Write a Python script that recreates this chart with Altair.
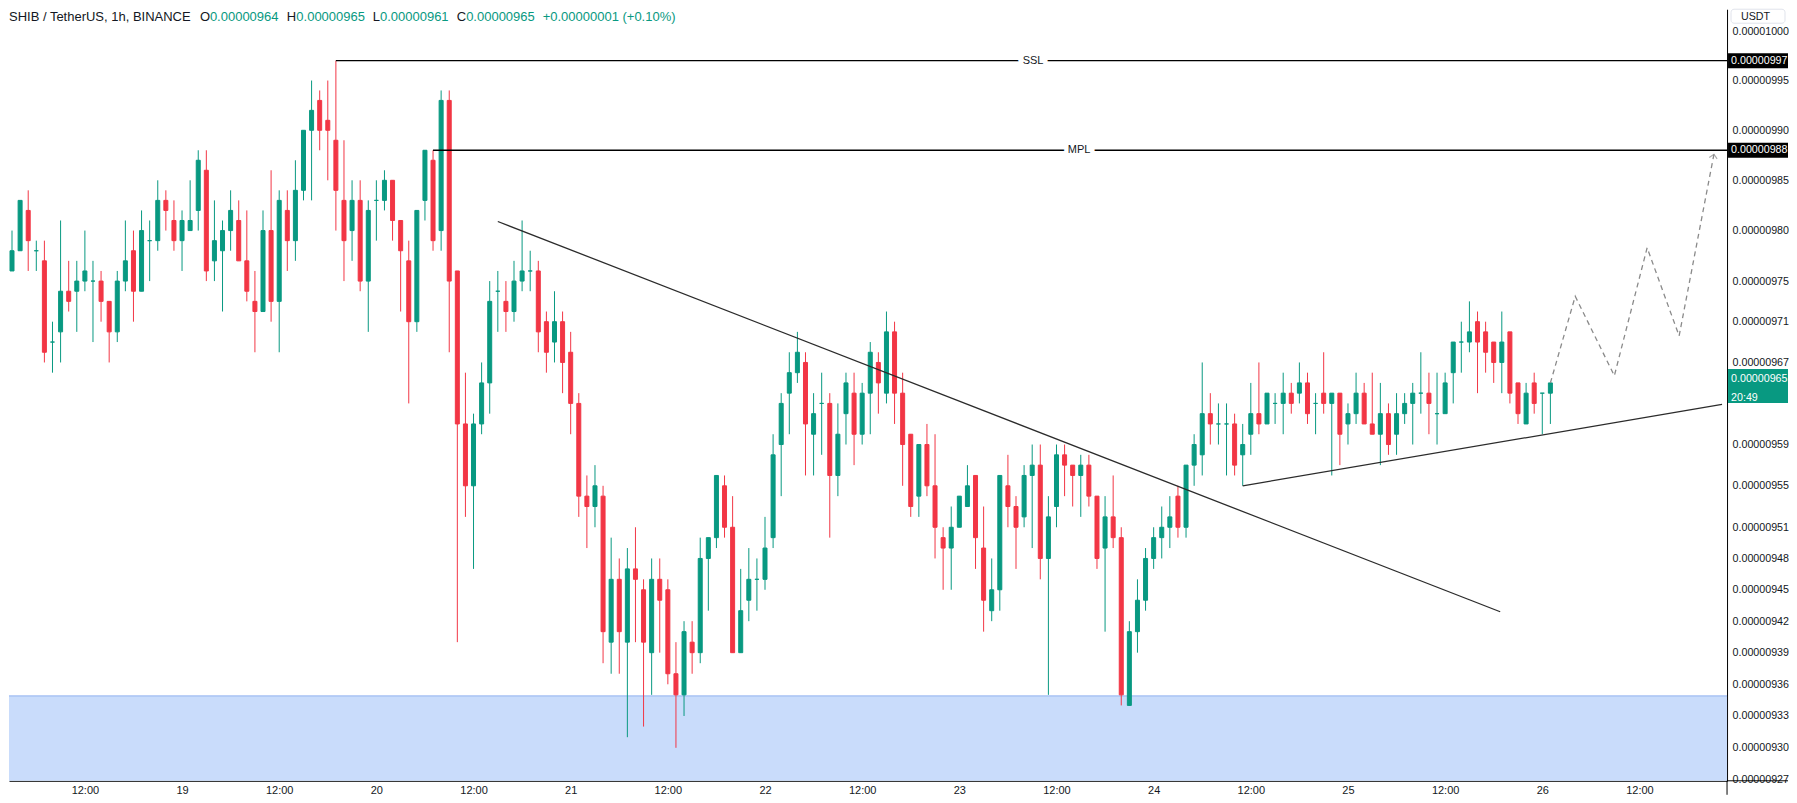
import altair as alt
import pandas as pd

# ---------------- data (prices in units of 1e-8 USDT) ----------------
hour = list(range(3, 194))  # hours since 18 00:00, one 1h candle each

open_ = [976, 978, 982, 978, 977, 969, 970, 974, 974, 975,
         975, 975, 973, 970, 975, 978, 974, 979, 979, 983,
         981, 979, 980, 982, 986, 977, 978, 980, 981, 977,
         973, 972, 980, 973, 982, 979, 984, 990, 993, 991,
         989, 983, 980, 983, 975, 983, 983, 985, 981, 977,
         971, 983, 987, 980, 993, 976, 961, 955, 961, 965,
         974, 973, 972, 975, 976, 976, 971, 969, 971, 968,
         963, 954, 953, 954, 940, 946, 940, 947, 945, 939,
         946, 945, 937, 935, 940, 939, 948, 950, 955, 951,
         939, 944, 946, 946, 950, 959, 964, 966, 967, 960,
         963, 963, 956, 962, 964, 960, 964, 967, 964, 970,
         964, 960, 954, 959, 955, 950, 949, 951, 953, 956,
         949, 943, 945, 955, 953, 952, 956, 957, 948, 953,
         958, 957, 956, 957, 954, 949, 952, 950, 934, 941,
         944, 948, 950, 951, 954, 951, 957, 958, 962, 961,
         961, 961, 958, 960, 962, 961, 963, 963, 964, 964,
         965, 963, 964, 963, 964, 961, 962, 964, 961, 960,
         962, 960, 962, 963, 964, 964, 962, 962, 966, 969,
         969, 971, 970, 969, 967, 970, 965, 961, 965, 964,
         964]
high = [980, 983, 984, 979, 979, 971, 981, 977, 977, 980,
        977, 976, 973, 976, 981, 980, 982, 981, 985, 984,
        983, 982, 985, 988, 988, 983, 981, 984, 983, 982,
        976, 982, 986, 984, 984, 987, 990, 995, 994, 995,
        997, 989, 985, 985, 983, 985, 986, 985, 981, 979,
        982, 988, 988, 994, 994, 976, 966, 962, 967, 975,
        976, 975, 977, 981, 978, 977, 972, 974, 972, 970,
        964, 956, 957, 955, 950, 948, 949, 951, 946, 948,
        948, 946, 940, 942, 942, 950, 950, 956, 956, 954,
        947, 949, 948, 952, 960, 964, 968, 970, 968, 964,
        966, 964, 963, 966, 966, 965, 969, 968, 972, 971,
        966, 960, 959, 961, 960, 951, 953, 954, 957, 956,
        953, 948, 956, 958, 954, 957, 959, 959, 954, 959,
        959, 957, 958, 958, 954, 954, 956, 951, 942, 946,
        949, 951, 953, 954, 955, 957, 960, 967, 964, 963,
        963, 962, 961, 965, 967, 964, 964, 966, 965, 967,
        966, 964, 968, 964, 964, 963, 966, 965, 966, 965,
        963, 964, 964, 965, 968, 966, 966, 966, 969, 971,
        973, 972, 971, 969, 972, 970, 965, 965, 966, 964,
        965]
low = [976, 978, 976, 976, 967, 966, 967, 972, 970, 974,
       969, 971, 967, 969, 974, 971, 974, 975, 978, 980,
       978, 976, 980, 980, 975, 975, 972, 978, 977, 973,
       968, 972, 971, 968, 976, 977, 983, 983, 988, 985,
       980, 975, 977, 974, 970, 979, 982, 979, 972, 963,
       970, 981, 978, 978, 968, 940, 952, 947, 960, 962,
       970, 970, 971, 974, 974, 968, 966, 967, 964, 960,
       952, 949, 951, 938, 937, 937, 931, 940, 932, 935,
       939, 936, 930, 933, 937, 938, 943, 949, 950, 939,
       939, 942, 943, 945, 949, 954, 960, 965, 956, 956,
       958, 950, 954, 959, 957, 959, 960, 962, 963, 961,
       955, 952, 952, 954, 948, 945, 945, 951, 953, 947,
       941, 942, 943, 951, 947, 951, 949, 946, 935, 951,
       954, 953, 952, 953, 947, 941, 949, 934, 934, 939,
       943, 947, 948, 949, 950, 950, 955, 956, 959, 959,
       956, 956, 955, 958, 960, 961, 961, 960, 962, 963,
       961, 960, 962, 956, 957, 959, 961, 961, 960, 957,
       958, 958, 961, 959, 962, 960, 959, 962, 963, 966,
       968, 964, 966, 965, 964, 963, 961, 961, 962, 960,
       961]
close = [978, 983, 979, 978, 968, 969, 974, 973, 975, 976,
         975, 973, 970, 975, 977, 974, 980, 979, 983, 982,
         979, 981, 981, 987, 976, 979, 980, 982, 977, 974,
         972, 980, 973, 983, 979, 984, 990, 992, 990, 990,
         984, 979, 983, 975, 982, 983, 985, 981, 978, 971,
         982, 988, 979, 993, 975, 961, 955, 961, 965, 973,
         974, 972, 975, 976, 976, 970, 968, 971, 967, 963,
         954, 953, 955, 941, 946, 941, 947, 946, 940, 946,
         944, 937, 935, 941, 939, 948, 950, 956, 951, 939,
         943, 946, 946, 949, 958, 963, 966, 968, 961, 962,
         963, 956, 960, 965, 960, 964, 968, 965, 970, 964,
         959, 953, 959, 955, 951, 949, 951, 954, 955, 950,
         944, 945, 956, 953, 951, 956, 957, 948, 952, 958,
         957, 956, 957, 954, 948, 952, 950, 935, 941, 944,
         948, 950, 951, 952, 951, 957, 959, 962, 961, 961,
         961, 957, 959, 962, 961, 964, 963, 964, 963, 965,
         962, 963, 963, 964, 960, 962, 964, 961, 960, 962,
         959, 962, 963, 964, 964, 963, 962, 965, 969, 969,
         970, 969, 968, 967, 969, 964, 962, 964, 963, 964,
         965]

# horizontal levels
level_names = ["SSL", "MPL"]
level_values = [997, 988]
level_start_hours = [43, 55]
level_label_hours = [129.1, 134.8]

# demand zone (blue box)
zone_top = [934.9]

# drawn trend lines
down_hours = [63.0, 186.8]
down_values = [980.9, 942.9]
up_hours = [155.0, 214.2]
up_values = [955.0, 962.9]

# dashed projected path
proj_hours = [193, 196.07, 200.9, 204.95, 208.9, 213.2]
proj_values = [965, 973.5, 965.7, 978.3, 969.6, 987.6]

# axis ticks
price_ticks = [927, 930, 933, 936, 939, 942, 945, 948, 951, 955, 959,
               967, 971, 975, 980, 985, 990, 995, 1000]
time_ticks = list(range(12, 205, 12))

# header legend
header_texts = ["SHIB / TetherUS, 1h, BINANCE", "O", "0.00000964", "H", "0.00000965",
                "L", "0.00000961", "C", "0.00000965", "+0.00000001 (+0.10%)"]
header_x = [0, 191, 201, 278, 287.5, 364, 371.2, 448, 457.4, 534]
header_green = [False, False, True, False, True, False, True, False, True, True]
last_price = [965]
countdown = ["20:49"]

# ---------------- layout ----------------
W, H = 1719, 772
GREEN, RED = "#089981", "#F23645"
FONT = "Liberation Sans"
AX_FS = 10.7

df = pd.DataFrame({"h": hour, "o": open_, "hi": high, "lo": low, "c": close})
df["hi"] = df[["hi", "o", "c"]].max(axis=1)
df["lo"] = df[["lo", "o", "c"]].min(axis=1)
df["top"] = df[["o", "c"]].max(axis=1)
df["bot"] = df[["o", "c"]].min(axis=1)
df["dir"] = ["up" if c >= o else "down" for o, c in zip(df.o, df.c)]

xs = alt.Scale(domain=[3.245, 214.2], nice=False, zero=False)
ys = alt.Scale(type="log", domain=[926.9, 1002.21], nice=False, zero=False)
cs = alt.Scale(domain=["up", "down"], range=[GREEN, RED])

xax = alt.Axis(values=time_ticks, title=None, grid=False, ticks=False, tickSize=0,
               labelPadding=4, labelFlush=False, labelOverlap=False,
               labelExpr="datum.value % 24 == 0 ? toString(18 + datum.value / 24) : '12:00'",
               domainColor="#000000", domainWidth=1, labelFont=FONT, labelFontSize=11,
               labelColor="#131722")
yax = alt.Axis(orient="right", values=price_ticks, title=None, grid=False, ticks=False,
               tickSize=0, labelPadding=5, labelOverlap=False, labelFlush=False,
               labelExpr="format(datum.value * 1e-8, '.8f')",
               domainColor="#000000", domainWidth=1, labelFont=FONT, labelFontSize=AX_FS,
               labelColor="#131722")


def X(field):
    return alt.X(field, type="quantitative", scale=xs, axis=xax)


def Y(field):
    return alt.Y(field, type="quantitative", scale=ys, axis=yax)


zone_df = pd.DataFrame({"top": zone_top})
zone = alt.Chart(zone_df).mark_rect(color="#c9dcfb").encode(
    x=alt.value(0), x2=alt.value(W), y=Y("top"), y2=alt.value(H))
zone_edge = alt.Chart(zone_df).mark_rule(color="#8fb0f0", strokeWidth=1).encode(
    x=alt.value(0), x2=alt.value(W), y=Y("top"))

wicks = alt.Chart(df).mark_rule(strokeWidth=1, clip=True).encode(
    x=X("h"), y=Y("lo"), y2=alt.Y2("hi"),
    color=alt.Color("dir:N", scale=cs, legend=None))
bodies = alt.Chart(df).mark_bar(size=4, strokeWidth=1, clip=True).encode(
    x=X("h"), y=Y("bot"), y2=alt.Y2("top"),
    color=alt.Color("dir:N", scale=cs, legend=None),
    stroke=alt.Stroke("dir:N", scale=cs, legend=None))

lv = pd.DataFrame({"name": level_names, "v": level_values,
                   "h0": level_start_hours, "hl": level_label_hours})
levels = alt.Chart(lv).mark_rule(color="#000000", strokeWidth=1.3).encode(
    x=X("h0"), x2=alt.value(W), y=Y("v"))
lv_halo = alt.Chart(lv).mark_text(font=FONT, fontSize=11, color="white", stroke="white",
                                  strokeWidth=9).encode(x=X("hl"), y=Y("v"), text="name:N")
lv_text = alt.Chart(lv).mark_text(font=FONT, fontSize=11, color="#131722").encode(
    x=X("hl"), y=Y("v"), text="name:N")

down = alt.Chart(pd.DataFrame({"h": down_hours, "v": down_values})).mark_line(
    color="#2b2b2b", strokeWidth=1.3, clip=True).encode(x=X("h"), y=Y("v"))
up = alt.Chart(pd.DataFrame({"h": up_hours, "v": up_values})).mark_line(
    color="#2b2b2b", strokeWidth=1.3, clip=True).encode(x=X("h"), y=Y("v"))

proj_df = pd.DataFrame({"h": proj_hours, "v": proj_values})
proj = alt.Chart(proj_df).mark_line(color="#8a8a8a", strokeWidth=1.3,
                                    strokeDash=[5, 4], clip=True).encode(x=X("h"), y=Y("v"))
arrow = alt.Chart(proj_df.tail(1)).mark_point(
    shape="M -1 1 L 0 0 L 1 1", filled=False, color="#8a8a8a", strokeWidth=1.2,
    size=64, angle=11).encode(x=X("h"), y=Y("v"))

# right-axis price tags
tag_df = pd.DataFrame({"v": level_values,
                       "label": ["{:.8f}".format(v * 1e-8) for v in level_values]})
tags = alt.Chart(tag_df).mark_rect(color="#000000", yOffset=-7.5, y2Offset=7.5).encode(
    x=alt.value(W + 1), x2=alt.value(W + 61), y=Y("v"), y2=alt.Y2("v"))
tag_text = alt.Chart(tag_df).mark_text(font=FONT, fontSize=AX_FS, color="white",
                                       align="left", baseline="middle").encode(
    x=alt.value(W + 4), y=Y("v"), text="label:N")

lp_df = pd.DataFrame({"v": last_price,
                      "label": ["{:.8f}".format(v * 1e-8) for v in last_price],
                      "cd": countdown})
lp_box = alt.Chart(lp_df).mark_rect(color=GREEN, yOffset=-14, y2Offset=20).encode(
    x=alt.value(W + 1), x2=alt.value(W + 61), y=Y("v"), y2=alt.Y2("v"))
lp_text = alt.Chart(lp_df).mark_text(font=FONT, fontSize=AX_FS, color="white", align="left",
                                     baseline="middle", dy=-4).encode(
    x=alt.value(W + 4), y=Y("v"), text="label:N")
lp_cd = alt.Chart(lp_df).mark_text(font=FONT, fontSize=AX_FS, color="white", align="left",
                                   baseline="middle", dy=15).encode(
    x=alt.value(W + 4), y=Y("v"), text="cd:N")

# axis line extensions
ext_df = pd.DataFrame({"k": [0]})
ext_h = alt.Chart(ext_df).mark_rule(color="#000000", strokeWidth=1).encode(
    x=alt.value(W), x2=alt.value(W + 61), y=alt.value(H))
ext_v = alt.Chart(ext_df).mark_rule(color="#000000", strokeWidth=1).encode(
    x=alt.value(W), y=alt.value(H), y2=alt.value(H + 14))

# header legend
hd = pd.DataFrame({"t": header_texts, "px": header_x,
                   "g": ["g" if g else "k" for g in header_green]})
header = alt.Chart(hd).mark_text(font=FONT, fontSize=13, align="left",
                                 baseline="alphabetic").encode(
    x=alt.X("px:Q", scale=None), y=alt.value(12), text="t:N",
    color=alt.Color("g:N", scale=alt.Scale(domain=["g", "k"], range=[GREEN, "#131722"]),
                    legend=None))

usdt_box = alt.Chart(ext_df).mark_rect(fill="white", stroke="#e0e3eb", strokeWidth=1,
                                       cornerRadius=3).encode(
    x=alt.value(W + 4), x2=alt.value(W + 58), y=alt.value(0), y2=alt.value(14))
usdt = alt.Chart(pd.DataFrame({"t": ["USDT"]})).mark_text(
    font=FONT, fontSize=AX_FS, color="#131722", align="left", baseline="alphabetic").encode(
    x=alt.value(W + 14), y=alt.value(11), text="t:N")

chart = alt.layer(
    zone, zone_edge, wicks, bodies, levels, lv_halo, lv_text, down, up, proj, arrow,
    tags, tag_text, lp_box, lp_text, lp_cd, ext_h, ext_v, header, usdt_box, usdt
).resolve_scale(color="independent", stroke="independent").properties(
    width=W, height=H, padding=0, background="white"
).configure_view(stroke=None)

chart.save("out.html", embed_options={"renderer": "svg", "actions": False})
